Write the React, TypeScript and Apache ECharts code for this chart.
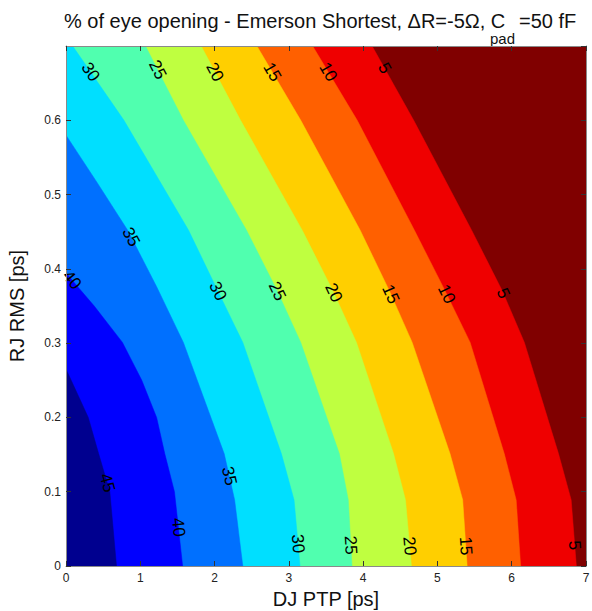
import React, { useEffect, useRef } from "react";
import * as echarts from "echarts";

// Axis ranges
const X_MIN = 0;
const X_MAX = 7;
const Y_MIN = 0;
const Y_MAX = 0.7;

// Contour levels (% of eye opening) and the jet colour of each filled band.
// BAND_COLORS[0] is below 5 %, BAND_COLORS[9] is above 45 %.
const LEVELS = [5, 10, 15, 20, 25, 30, 35, 40, 45];
const BAND_COLORS = [
  "#800000",
  "#EF0000",
  "#FF6000",
  "#FFCF00",
  "#BFFF40",
  "#50FFAF",
  "#00DFFF",
  "#0070FF",
  "#0000FF",
  "#00008F",
];

// Iso-lines as [DJ PTP, RJ RMS] points, ordered from bottom to top.
const CONTOUR_5 = [[6.87, 0], [6.8, 0.089], [6.63, 0.151], [6.17, 0.301], [5.87, 0.371], [5.46, 0.452], [4.68, 0.6], [4.12, 0.7]];
const CONTOUR_10 = [[6.12, 0], [6.06, 0.089], [5.9, 0.151], [5.44, 0.301], [5.1, 0.371], [4.69, 0.452], [3.92, 0.6], [3.32, 0.7]];
const CONTOUR_15 = [[5.4, 0], [5.34, 0.089], [5.17, 0.151], [4.66, 0.301], [4.35, 0.371], [3.96, 0.452], [3.16, 0.6], [2.57, 0.7]];
const CONTOUR_20 = [[4.65, 0], [4.57, 0.089], [4.41, 0.151], [3.91, 0.301], [3.59, 0.371], [3.18, 0.452], [2.35, 0.6], [1.82, 0.7]];
const CONTOUR_25 = [[3.85, 0], [3.8, 0.089], [3.68, 0.151], [3.16, 0.301], [2.84, 0.371], [2.43, 0.452], [1.58, 0.6], [1.07, 0.7]];
const CONTOUR_30 = [[3.15, 0], [3.07, 0.089], [2.9, 0.151], [2.38, 0.301], [2.04, 0.371], [1.65, 0.452], [0.78, 0.6], [0.09, 0.7]];
const CONTOUR_35 = [[2.38, 0], [2.27, 0.089], [2.13, 0.151], [1.58, 0.301], [1.22, 0.376], [0.83, 0.452], [0.42, 0.516], [0, 0.58]];
const CONTOUR_40 = [[1.57, 0], [1.46, 0.1], [1.33, 0.151], [1.22, 0.2], [1.02, 0.25], [0.76, 0.301], [0.38, 0.35], [0.08, 0.385], [0, 0.395]];
const CONTOUR_45 = [[0.68, 0], [0.59, 0.1], [0.44, 0.151], [0.3, 0.2], [0.07, 0.25], [0, 0.265]];
const CONTOURS = [CONTOUR_5, CONTOUR_10, CONTOUR_15, CONTOUR_20, CONTOUR_25, CONTOUR_30, CONTOUR_35, CONTOUR_40, CONTOUR_45];

// In-line contour labels: level and the RJ RMS height where each label sits
const LABEL_LEVELS = [30, 25, 20, 15, 10, 5, 35, 40, 30, 25, 20, 15, 10, 5, 35, 45, 40, 30, 25, 20, 15, 5];
const LABEL_HEIGHTS = [0.665, 0.668, 0.665, 0.665, 0.665, 0.67, 0.443, 0.385, 0.37, 0.37, 0.368, 0.366, 0.366, 0.367, 0.121, 0.112, 0.052, 0.03, 0.028, 0.027, 0.027, 0.028];

// Title pieces: main text, subscript, tail
const TITLE_HEAD = "% of eye opening - Emerson Shortest, ΔR=-5Ω, C";
const TITLE_SUB = "pad";
const TITLE_TAIL = "=50 fF";

const FONT_NAME = '"Liberation Sans", Arial, Helvetica, sans-serif';

function xAtHeight(curve: number[][], y: number): number {
  if (y <= curve[0][1]) return curve[0][0];
  for (let i = 0; i < curve.length - 1; i++) {
    const a = curve[i];
    const b = curve[i + 1];
    if (y >= a[1] && y <= b[1]) {
      const t = b[1] === a[1] ? 0 : (y - a[1]) / (b[1] - a[1]);
      return a[0] + t * (b[0] - a[0]);
    }
  }
  return curve[curve.length - 1][0];
}

export default function App() {
  const ref = useRef<HTMLDivElement>(null);

  useEffect(() => {
    document.body.style.margin = "0";
    document.body.style.overflow = "hidden";
    if (!ref.current) return;
    const chart = echarts.init(ref.current, undefined, { renderer: "svg" });

    const axisCommon = {
      type: "value" as const,
      splitLine: { show: false },
      axisLine: { show: true, onZero: false, lineStyle: { color: "#8a8a8a", width: 1 } },
      axisTick: { show: true, inside: true, length: 5, lineStyle: { color: "#333" } },
      z: 10,
    };

    // title laid out left to right: head, lowered subscript, tail
    const headX = 64;
    const subX = 490;
    const tailX = 519;
    const titleY = 21;
    const titleStyle = { fill: "#111", fontFamily: FONT_NAME, verticalAlign: "middle" as const, align: "left" as const };

    chart.setOption({
      animation: false,
      backgroundColor: "#ffffff",
      graphic: [
        { type: "text", x: headX, y: titleY, style: { ...titleStyle, text: TITLE_HEAD, fontSize: 20 } },
        { type: "text", x: subX, y: titleY + 17, style: { ...titleStyle, text: TITLE_SUB, fontSize: 15 } },
        { type: "text", x: tailX, y: titleY, style: { ...titleStyle, text: TITLE_TAIL, fontSize: 20 } },
      ],
      grid: { left: 66, top: 46, width: 520, height: 520, containLabel: false, outerBoundsMode: "none" },
      xAxis: [
        {
          ...axisCommon,
          position: "bottom",
          min: X_MIN,
          max: X_MAX,
          interval: 1,
          axisLabel: { color: "#222", fontSize: 12, fontFamily: FONT_NAME, margin: 6 },
          name: "DJ PTP [ps]",
          nameLocation: "middle",
          nameGap: 19,
          nameTextStyle: { color: "#111", fontSize: 20, fontFamily: FONT_NAME },
        },
        {
          ...axisCommon,
          position: "top",
          min: X_MIN,
          max: X_MAX,
          interval: 1,
          axisLabel: { show: false },
        },
      ],
      yAxis: [
        {
          ...axisCommon,
          position: "left",
          min: Y_MIN,
          max: Y_MAX,
          interval: 0.1,
          axisLabel: { color: "#222", fontSize: 12, fontFamily: FONT_NAME, margin: 5, showMaxLabel: false },
          name: "RJ RMS [ps]",
          nameLocation: "middle",
          nameGap: 39,
          nameTextStyle: { color: "#111", fontSize: 20, fontFamily: FONT_NAME },
        },
        {
          ...axisCommon,
          position: "right",
          min: Y_MIN,
          max: Y_MAX,
          interval: 0.1,
          axisLabel: { show: false },
        },
      ],
      series: [
        {
          // filled bands, painted from the lowest level upward
          type: "custom",
          xAxisIndex: 0,
          yAxisIndex: 0,
          silent: true,
          clip: true,
          z: 2,
          data: BAND_COLORS.map((_, i) => [i, 0]),
          renderItem: (_params: any, api: any) => {
            const i = api.value(0);
            let pts: number[][];
            if (i === 0) {
              pts = [[X_MIN, Y_MIN], [X_MAX, Y_MIN], [X_MAX, Y_MAX], [X_MIN, Y_MAX]];
            } else {
              const c = CONTOURS[i - 1];
              const last = c[c.length - 1];
              pts = [...c, [X_MIN, last[1]], [X_MIN, Y_MIN]];
            }
            return {
              type: "polygon",
              shape: { points: pts.map((p) => api.coord(p)) },
              style: { fill: BAND_COLORS[i], stroke: BAND_COLORS[i], lineWidth: 0.5 },
            };
          },
        },
        {
          // level labels written along the iso-lines
          type: "custom",
          xAxisIndex: 0,
          yAxisIndex: 0,
          silent: true,
          clip: false,
          z: 5,
          data: LABEL_LEVELS.map((_, k) => [k, 0]),
          renderItem: (_params: any, api: any) => {
            const k = api.value(0);
            const level = LABEL_LEVELS[k];
            const y = LABEL_HEIGHTS[k];
            const curve = CONTOURS[LEVELS.indexOf(level)];
            const top = curve[curve.length - 1][1];
            const d = 0.015;
            const yLo = Math.max(0, y - d);
            const yHi = Math.min(top, y + d);
            const p = api.coord([xAtHeight(curve, y), y]);
            const pLo = api.coord([xAtHeight(curve, yLo), yLo]);
            const pHi = api.coord([xAtHeight(curve, yHi), yHi]);
            const theta = Math.atan2(pLo[1] - pHi[1], pLo[0] - pHi[0]);
            return {
              type: "text",
              x: p[0],
              y: p[1],
              rotation: -theta,
              style: {
                text: String(level),
                fill: "#000",
                fontSize: 17,
                fontFamily: FONT_NAME,
                align: "center",
                verticalAlign: "middle",
              },
            };
          },
        },
      ],
    });

    return () => chart.dispose();
  }, []);

  return <div ref={ref} style={{ width: 592, height: 611 }} />;
}
